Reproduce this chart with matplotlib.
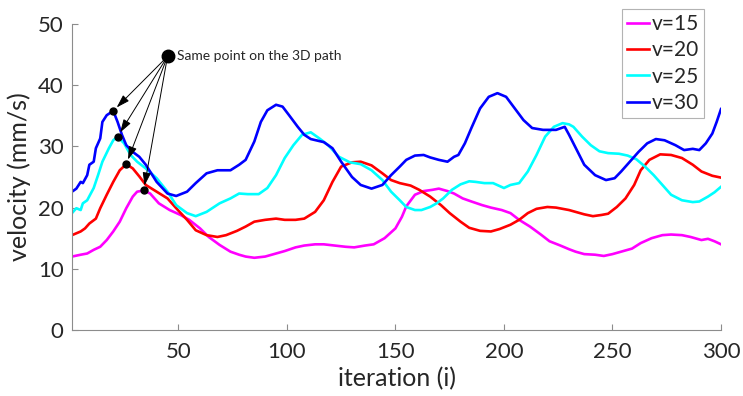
import matplotlib
matplotlib.use("Agg")
import matplotlib.pyplot as plt

# ---------------- data ----------------
x15 = [1, 5, 8, 11, 14, 17, 20, 23, 26, 29, 31, 34, 37, 41, 46, 51, 55, 60, 64, 69, 74, 78,
       81, 85, 90, 94, 99, 104, 108, 113, 117, 122, 127, 131, 136, 140, 145, 150, 153, 155,
       159, 163, 167, 170, 174, 177, 181, 185, 190, 194, 199, 203, 207, 212, 217, 221, 226,
       230, 233, 237, 242, 246, 250, 254, 259, 263, 268, 273, 277, 282, 286, 291, 294, 297, 300]
v15 = [12.0, 12.3, 12.5, 13.1, 13.6, 14.7, 16.1, 17.7, 19.9, 21.8, 22.6, 22.8, 22.3, 20.7, 19.6,
       18.8, 18.0, 16.6, 15.2, 13.9, 12.8, 12.3,
       12.0, 11.8, 12.0, 12.4, 12.9, 13.5, 13.8, 14.0, 14.0, 13.8, 13.6, 13.5, 13.8, 14.0,
       15.0, 16.6, 18.5, 20.2,
       22.1, 22.7, 22.9, 23.1, 22.7, 22.3, 21.5, 21.0, 20.4, 20.0, 19.6, 19.1, 18.0, 16.9,
       15.6, 14.5, 13.8,
       13.2, 12.8, 12.4, 12.3, 12.1, 12.4, 12.8, 13.3, 14.2, 15.0, 15.5, 15.6, 15.5, 15.2,
       14.7, 14.9, 14.5, 14.0]

x20 = [1, 3, 5, 7, 9, 12, 14, 17, 20, 23, 26, 29, 32, 35, 40, 45, 49, 54, 58, 63, 68, 72, 77,
       81, 85, 90, 95, 99, 104, 108, 113, 117, 121, 125, 130, 134, 139, 144, 148, 152,
       157, 161, 166, 171, 175, 180, 184, 189, 194, 198, 203, 207, 211, 215, 220, 224, 230,
       233, 237, 241, 245, 248, 252, 256, 260, 263, 267, 272, 277, 282, 287, 291, 296, 300]
v20 = [15.5, 15.8, 16.1, 16.6, 17.4, 18.2, 19.9, 22.1, 24.2, 26.1, 27.1, 26.4, 25.1, 23.7,
       22.6, 21.5, 19.9, 18.0, 16.3, 15.5, 15.2, 15.5, 16.2,
       16.9, 17.7, 18.0, 18.2, 18.0, 18.0, 18.2, 19.3, 21.2, 24.2, 26.7, 27.4, 27.5, 26.9,
       25.6, 24.5, 24.0,
       23.6, 22.9, 21.8, 20.4, 19.1, 17.7, 16.7, 16.2, 16.1, 16.5, 17.2, 18.0, 19.1, 19.8,
       20.1, 20.0, 19.6,
       19.3, 18.9, 18.6, 18.8, 19.0, 20.1, 21.5, 23.7, 26.1, 27.8, 28.7, 28.6, 28.1, 27.0,
       25.9, 25.2, 24.9]

x25 = [1, 3, 5, 6, 8, 11, 13, 15, 18, 20, 22, 25, 28, 31, 35, 40, 45, 49, 54, 58, 63, 69,
       74, 78, 82, 87, 91, 95, 99, 103, 107, 111, 115, 119, 124, 129, 134, 139, 144, 148,
       152, 155, 159, 162, 166, 169, 172, 176, 180, 184, 187, 191, 195, 200, 203, 207, 211,
       215, 219, 223, 227, 230, 232, 236, 240, 244, 248, 253, 257, 261, 265, 269, 273, 277,
       282, 287, 290, 294, 297, 300]
v25 = [19.1, 19.9, 19.6, 20.7, 21.2, 23.2, 25.3, 27.5, 29.7, 31.0, 31.6, 30.5, 28.6, 27.5,
       26.4, 24.8, 22.6, 20.4, 19.1, 18.6, 19.3, 20.7, 21.5, 22.3,
       22.2, 22.2, 23.2, 25.3, 28.1, 30.2, 31.9, 32.3, 31.3, 30.2, 28.3, 27.4, 27.1, 26.1,
       24.5, 22.6, 21.2,
       20.1, 19.6, 19.6, 20.1, 20.7, 21.5, 22.9, 23.8, 24.3, 24.2, 24.0, 24.0, 23.2, 23.7,
       24.0, 25.9, 28.6, 31.6, 33.2, 33.8, 33.6,
       33.2, 31.6, 30.2, 29.2, 28.9, 28.8, 28.5, 27.9, 26.7, 25.3, 23.7, 22.1, 21.2, 20.9,
       21.0, 21.8, 22.5, 23.4]

x30 = [1, 3, 5, 6, 8, 9, 11, 12, 14, 15, 17, 20, 22, 24, 26, 29, 32, 35, 40, 45, 49, 54,
       58, 63, 68, 74, 78, 81, 85, 88, 91, 95, 98, 101, 105, 108, 111, 117, 121, 125, 130,
       134, 139, 144, 148, 152, 155, 159, 163, 166, 170, 174, 177, 179, 182, 185, 189, 193,
       197, 201, 205, 209, 213, 218, 224, 228, 230, 234, 237, 242, 247, 251, 254, 258, 262,
       266, 270, 274, 279, 283, 287, 290, 293, 296, 298, 300]
v30 = [22.6, 23.1, 24.2, 24.0, 25.3, 27.0, 27.5, 29.7, 31.3, 34.0, 35.1, 35.8, 34.0, 31.9,
       30.2, 29.1, 28.3, 27.0, 24.2, 22.3, 21.9, 22.6,
       24.0, 25.6, 26.1, 26.1, 27.0, 27.8, 30.8, 34.0, 35.9, 36.8, 36.5, 35.1, 33.2, 31.9,
       31.2, 30.7, 29.7, 27.5, 25.0,
       23.7, 23.1, 23.7, 25.3, 26.7, 27.8, 28.5, 28.6, 28.2, 27.8, 27.5, 28.3, 28.6, 30.5,
       33.0, 36.2, 38.1,
       38.7, 38.1, 36.2, 34.3, 33.0, 32.7, 32.7, 33.2, 31.9, 29.1, 27.0, 25.3, 24.5, 24.8,
       25.9, 27.5, 29.1,
       30.5, 31.2, 31.0, 30.2, 29.4, 29.6, 29.4, 30.5, 32.1, 34.0, 36.1]

labels = ["v=15", "v=20", "v=25", "v=30"]
colors = ["#ff00ff", "#ff0000", "#00ffff", "#0000ff"]

# points marked as the same 3D-path point
mark_x = [20, 22, 26, 34]
mark_y = [35.8, 31.6, 27.1, 22.8]
src_x, src_y = 45, 44.7
note = "Same point on the 3D path"

xticks = [50, 100, 150, 200, 250, 300]
yticks = [0, 10, 20, 30, 40, 50]

# ---------------- figure ----------------
plt.rcParams['font.family'] = ['Lato', 'DejaVu Sans']
txt = "#262626"
axc = "#8c8c8c"

fig = plt.figure(figsize=(7.43, 3.96), dpi=100)
ax = fig.add_axes([72 / 743, 66 / 396, 649 / 743, 306 / 396])

for xs, ys, lab, c in zip([x15, x20, x25, x30], [v15, v20, v25, v30], labels, colors):
    ax.plot(xs, ys, color=c, lw=1.9, label=lab)

ax.plot(mark_x, mark_y, 'o', color='black', ms=5, zorder=5)
ax.plot([src_x], [src_y], 'o', color='black', ms=9, zorder=5)
for mx, my in zip(mark_x, mark_y):
    ax.annotate("", xy=(mx, my), xytext=(src_x, src_y),
                arrowprops=dict(arrowstyle="-|>,head_length=0.8,head_width=0.25",
                                color="black", lw=0.7, shrinkA=3, shrinkB=3.5))
ax.text(src_x + 4.2, src_y, note, fontsize=10, color=txt, va='center', ha='left')

ax.set_xlim(1, 300)
ax.set_ylim(0, 50)
ax.set_xticks(xticks)
ax.set_yticks(yticks)
for s in ['top', 'right']:
    ax.spines[s].set_visible(False)
for s in ['left', 'bottom']:
    ax.spines[s].set_color(axc)
    ax.spines[s].set_linewidth(0.8)
ax.tick_params(direction='in', length=4, width=0.8, color=axc, labelcolor=txt,
               labelsize=16)
ax.tick_params(axis='x', pad=9)
ax.tick_params(axis='y', pad=6)
ax.set_xlabel("iteration (i)", fontsize=18, color=txt, labelpad=3)
ax.set_ylabel("velocity (mm/s)", fontsize=18, color=txt, labelpad=5)

leg = ax.legend(loc='upper right', bbox_to_anchor=(704 / 743, 387 / 396),
                bbox_transform=fig.transFigure, borderaxespad=0,
                fontsize=15, handlelength=1.05, handletextpad=0.12,
                labelspacing=0.3, borderpad=0.25, frameon=True, fancybox=False)
leg.get_frame().set_edgecolor("#a0a0a0")
leg.get_frame().set_linewidth(0.8)
for t in leg.get_texts():
    t.set_color(txt)

fig.savefig("out.png", dpi=100)
